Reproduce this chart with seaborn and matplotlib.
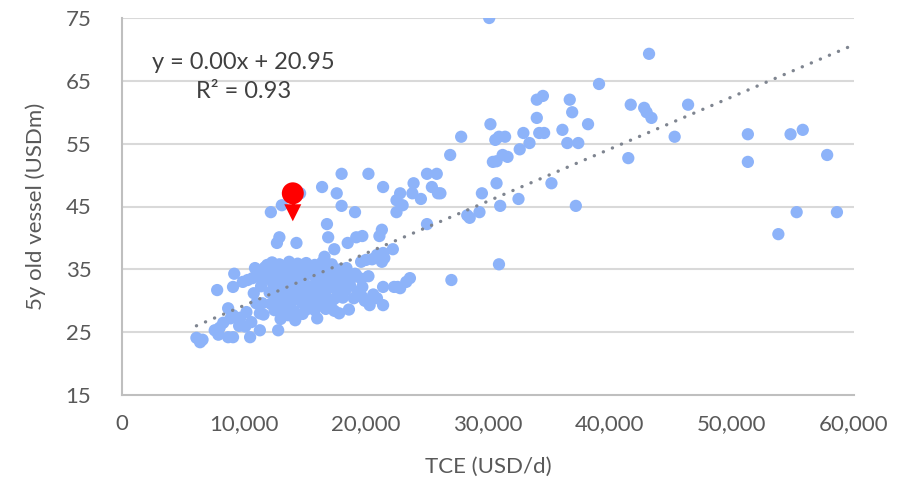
import numpy as np
import pandas as pd
import matplotlib
matplotlib.use("Agg")
import matplotlib.pyplot as plt
import seaborn as sns

# ---- data (TCE in thousand USD/d, 5y old vessel value in USDm) ----
tce_k = [
    30.1, 43.2, 39.1, 34.0, 34.5, 36.7, 36.9, 41.7, 42.8, 43.0, 43.4, 46.4, 34.0, 30.2, 38.2,
    27.8, 36.1, 34.2, 34.6, 32.9, 30.6, 30.9, 31.4, 33.4, 32.6, 36.5, 37.4, 45.3, 51.3, 54.8,
    55.8, 41.5, 51.3, 57.8, 31.2, 31.6, 30.4, 30.7, 26.9, 35.2, 30.7, 29.5, 32.5, 37.2, 31.0,
    29.3, 28.3, 28.5, 55.3, 58.6, 53.8, 30.9, 27.0,
    25.0, 25.8, 25.4, 25.9, 26.1, 23.9, 23.8, 22.8, 24.5, 22.5, 22.5, 25.0, 21.4, 20.2, 18.0,
    16.4, 17.6, 18.0, 19.1, 16.8, 16.9, 12.2, 13.1, 14.6, 12.9, 12.7, 14.3, 17.4, 18.5, 19.2,
    19.7, 21.3, 21.1, 22.2, 21.4, 20.9, 20.0, 19.6, 21.3, 16.6, 23.6, 22.3, 22.6, 21.4, 21.4,
    20.9, 20.3, 19.7, 18.4, 19.2, 23.0,
    9.2, 7.8, 9.1, 9.9, 10.9, 10.7, 10.8, 11.3, 11.9, 8.7, 9.1, 9.7, 10.2, 10.6, 11.3, 11.5,
    11.0, 7.6, 8.0, 8.7, 9.1, 10.5, 11.3, 6.1, 6.4, 6.6, 8.3, 9.6, 12.8, 7.9, 8.9, 10.1,
    12.3, 12.9, 13.7, 14.4, 15.1, 15.8, 16.4, 17.2,
    11.7, 12.6, 13.2, 14.1, 14.8, 15.5, 16.1, 17.0, 17.9, 18.4,
    11.1, 12.0, 12.9, 13.5, 14.6, 15.3, 16.0, 16.9, 17.5, 18.3, 19.1,
    10.3, 11.9, 12.5, 13.4, 14.3, 14.9, 15.9, 16.4, 17.3, 18.1, 18.7, 19.6,
    11.4, 12.4, 13.0, 14.0, 14.9, 15.6, 16.2, 17.1, 17.8, 18.7,
    12.1, 12.7, 13.7, 14.4, 15.2, 16.1, 16.7, 17.7, 18.3, 19.3,
    12.6, 13.4, 14.3, 15.0, 15.9, 16.5, 17.4, 18.1, 19.0, 19.7,
    12.2, 13.1, 13.8, 14.8, 15.4, 16.3, 17.1,
    12.5, 13.3, 14.1, 15.1, 15.8, 16.7, 17.4, 18.6,
    11.6, 13.6, 14.8, 16.0, 17.8, 13.0, 14.2,
    20.5, 21.0, 21.5, 20.2, 22.8, 23.3, 20.6, 19.9,
]
vessel_usdm = [
    75.0, 69.3, 64.5, 62.0, 62.6, 62.0, 60.0, 61.2, 60.7, 60.0, 59.1, 61.2, 59.1, 58.1, 58.1,
    56.1, 57.2, 56.7, 56.7, 56.7, 55.6, 56.1, 56.1, 55.1, 54.1, 55.1, 55.1, 56.1, 56.5, 56.5,
    57.2, 52.7, 52.1, 53.2, 53.2, 52.9, 52.1, 52.2, 53.2, 48.7, 48.7, 47.1, 46.2, 45.1, 45.1,
    44.1, 43.6, 43.2, 44.1, 44.1, 40.6, 35.8, 33.3,
    50.2, 50.2, 48.1, 47.1, 47.1, 48.7, 47.1, 47.1, 46.2, 46.0, 44.1, 42.2, 48.1, 50.2, 50.2,
    48.1, 47.1, 45.1, 44.1, 42.2, 40.1, 44.1, 45.2, 47.1, 40.1, 39.2, 39.2, 38.2, 39.2, 40.1,
    40.3, 41.3, 40.3, 38.2, 37.6, 37.3, 36.5, 36.2, 36.2, 37.0, 33.6, 32.2, 32.2, 32.2, 29.3,
    30.4, 29.3, 32.2, 32.2, 34.1, 45.2,
    34.3, 31.7, 32.2, 33.0, 35.2, 33.6, 31.2, 33.8, 35.7, 28.8, 27.7, 27.3, 28.2, 26.6, 28.0, 29.6,
    29.6, 25.3, 25.7, 24.2, 24.2, 24.2, 25.3, 24.1, 23.4, 23.8, 26.5, 26.0, 25.3, 24.6, 27.2, 25.9,
    36.1, 35.8, 36.2, 35.9, 36.0, 35.7, 36.1, 35.8,
    35.3, 35.0, 35.4, 35.2, 34.9, 35.3, 35.1, 35.4, 35.0, 35.2,
    34.2, 34.4, 34.1, 34.5, 34.2, 34.4, 34.0, 34.3, 34.5, 34.1, 34.3,
    33.3, 33.5, 33.2, 33.4, 33.6, 33.3, 33.5, 33.2, 33.4, 33.6, 33.3, 33.5,
    32.3, 32.5, 32.2, 32.6, 32.4, 32.3, 32.5, 32.2, 32.6, 32.4,
    31.3, 31.5, 31.2, 31.6, 31.4, 31.3, 31.5, 31.2, 31.6, 31.4,
    30.4, 30.6, 30.3, 30.5, 30.4, 30.6, 30.3, 30.5, 30.4, 30.6,
    29.5, 29.7, 29.4, 29.6, 29.5, 29.7, 29.4,
    28.5, 28.7, 28.4, 28.6, 28.5, 28.7, 28.4, 28.6,
    27.8, 27.7, 27.9, 27.2, 28.0, 27.1, 26.9,
    36.6, 37.0, 36.8, 33.9, 32.0, 33.0, 31.0, 30.0,
]

x_ticks = [0, 10000, 20000, 30000, 40000, 50000, 60000]
y_ticks = [15, 25, 35, 45, 55, 65, 75]

trend_slope = 0.00083
trend_intercept = 20.95
trend_x_end = 60000
eq_text = "y = 0.00x + 20.95"
r2_text = "R² = 0.93"

highlight_tce = 14000
highlight_val = 47.1
stem_end_val = 45.0
arrow_head_val = 44.0

df = pd.DataFrame({"TCE": np.array(tce_k) * 1000, "Vessel": vessel_usdm})

# ---- plotting ----
sns.set_theme(style="white")
plt.rcParams["font.family"] = ["Lato", "DejaVu Sans"]

fig = plt.figure(figsize=(9.13, 4.87), dpi=100)
ax = fig.add_axes([122 / 913, 1 - 395 / 487, (854 - 122) / 913, (395 - 18) / 487])

grid_c = "#d9d9d9"
for yv in y_ticks[1:]:
    ax.axhline(yv, color=grid_c, lw=1.5, zorder=0)

sns.scatterplot(data=df, x="TCE", y="Vessel", ax=ax, color="#8DB3F9",
                s=78, edgecolor="none", linewidth=0, zorder=2, legend=False)

tx = np.array([df["TCE"].min(), trend_x_end])
ax.plot(tx, trend_slope * tx + trend_intercept, color="#7F8590", lw=2.4,
        linestyle=(0, (0.05, 2.9)), dash_capstyle="round", zorder=3)

# highlighted vessel: red dot with a downward arrow
ax.plot([highlight_tce, highlight_tce], [highlight_val, stem_end_val],
        color="#FF0000", lw=2.5, zorder=4)
ax.scatter([highlight_tce], [arrow_head_val], marker="v", s=150,
           color="#FF0000", edgecolor="none", zorder=4)
ax.scatter([highlight_tce], [highlight_val], s=250, color="#FF0000",
           edgecolor="none", zorder=5)

ax.set_xlim(0, 60000)
ax.set_ylim(15, 75)
ax.set_xticks(x_ticks)
ax.set_yticks(y_ticks)
ax.set_xticklabels([f"{v:,}" for v in x_ticks])
ax.set_yticklabels([str(v) for v in y_ticks])

txt_c = "#595959"
ax.tick_params(axis="x", colors=txt_c, labelsize=16, length=6, width=1.3,
               direction="out", color="#bfbfbf", pad=8)
ax.tick_params(axis="y", colors=txt_c, labelsize=16, length=0, pad=22)
for side in ["top", "right"]:
    ax.spines[side].set_visible(False)
for side in ["left", "bottom"]:
    ax.spines[side].set_color("#bfbfbf")
    ax.spines[side].set_linewidth(1.5)

ax.set_xlabel("TCE (USD/d)", fontsize=16, color=txt_c, labelpad=16)
ax.set_ylabel("5y old vessel (USDm)", fontsize=16, color=txt_c, labelpad=14)

ax.text(0.166, 0.882, eq_text, transform=ax.transAxes, ha="center", va="center",
        fontsize=17, color="#404040")
ax.text(0.166, 0.806, r2_text, transform=ax.transAxes, ha="center", va="center",
        fontsize=17, color="#404040")

fig.savefig("out.png", dpi=100)
